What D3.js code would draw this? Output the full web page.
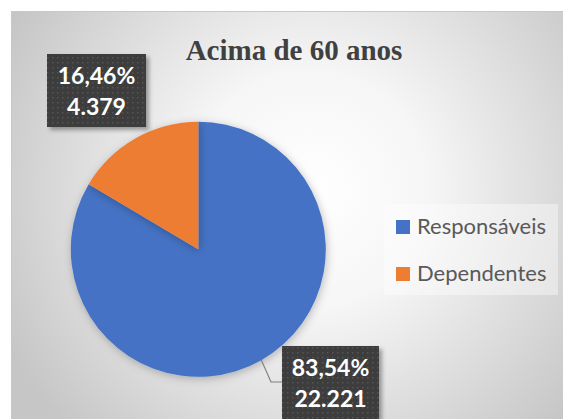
<!DOCTYPE html>
<html>
<head>
<meta charset="utf-8">
<script src="https://cdn.jsdelivr.net/npm/d3@7"></script>
<style>
  html, body { margin: 0; padding: 0; background: #ffffff; }
  svg { display: block; }
</style>
</head>
<body>
<div id="chart"></div>
<script>
// chart data
var categories = ["Responsáveis", "Dependentes"];
var values = [22221, 4379];
var colors = ["#4472c4", "#ed7d31"];
var title = "Acima de 60 anos";

var width = 563, height = 419;

// pt-BR number formats
var locale = d3.formatLocale({decimal: ",", thousands: ".", grouping: [3], currency: ["R$", ""]});
var fmtPct = locale.format(".2%");
var fmtNum = locale.format(",d");

var svg = d3.select("#chart")
    .append("svg")
    .attr("width", width)
    .attr("height", height);

var defs = svg.append("defs");

// radial background
var grad = defs.append("radialGradient")
    .attr("id", "bg")
    .attr("gradientUnits", "userSpaceOnUse")
    .attr("cx", 310).attr("cy", 190).attr("r", 340);
grad.append("stop").attr("offset", "0%").attr("stop-color", "#ffffff");
grad.append("stop").attr("offset", "35%").attr("stop-color", "#f6f6f6");
grad.append("stop").attr("offset", "100%").attr("stop-color", "#c6c6c6");

// dotted texture for data labels
var pat = defs.append("pattern")
    .attr("id", "dots")
    .attr("patternUnits", "userSpaceOnUse")
    .attr("width", 5).attr("height", 5);
pat.append("rect").attr("width", 5).attr("height", 5).attr("fill", "#3c3c3c");
pat.append("rect").attr("x", 2).attr("y", 2).attr("width", 1.5).attr("height", 1.5).attr("fill", "#575757");

// shadows
var sh = defs.append("filter").attr("id", "pieShadow")
    .attr("x", "-20%").attr("y", "-20%").attr("width", "140%").attr("height", "140%");
sh.append("feDropShadow").attr("dx", 1).attr("dy", 2).attr("stdDeviation", 4)
    .attr("flood-color", "#000").attr("flood-opacity", 0.25);

var sh2 = defs.append("filter").attr("id", "boxShadow")
    .attr("x", "-20%").attr("y", "-20%").attr("width", "140%").attr("height", "140%");
sh2.append("feDropShadow").attr("dx", 3).attr("dy", 3).attr("stdDeviation", 2)
    .attr("flood-color", "#000").attr("flood-opacity", 0.35);

// chart area
svg.append("rect")
    .attr("x", 11.5).attr("y", 11.5)
    .attr("width", 620).attr("height", 500)
    .attr("fill", "url(#bg)")
    .attr("stroke", "#c8c8c8")
    .attr("stroke-width", 1);

// title
svg.append("text")
    .attr("x", 294)
    .attr("y", 60)
    .attr("text-anchor", "middle")
    .style("font-family", "'Liberation Serif', 'Times New Roman', serif")
    .style("font-weight", "bold")
    .style("font-size", "29px")
    .style("fill", "#404040")
    .text(title);

// pie
var cx = 198.3, cy = 249.3, radius = 127.5;

var pie = d3.pie().sort(null).value(d => d.value);
var data = categories.map((c, i) => ({name: c, value: values[i], color: colors[i]}));
var arcs = pie(data);
var total = d3.sum(values);

var arc = d3.arc().innerRadius(0).outerRadius(radius);

var g = svg.append("g")
    .attr("transform", "translate(" + cx + "," + cy + ")");

g.selectAll("path")
    .data(arcs)
    .enter()
    .append("path")
    .attr("d", arc)
    .attr("fill", d => d.data.color)
    .attr("filter", "url(#pieShadow)");

// data labels (boxes placed like the original)
var labelBoxes = [
    {x: 282, y: 346, w: 97, h: 73, leader: true},
    {x: 47, y: 54, w: 99, h: 73, leader: false}
];

arcs.forEach(function(d, i) {
    var b = labelBoxes[i];
    if (b.leader) {
        var mid = (d.startAngle + d.endAngle) / 2;
        var px = cx + Math.sin(mid) * radius;
        var py = cy - Math.cos(mid) * radius;
        var ly = b.y + 36;
        svg.append("polyline")
            .attr("points", [[px, py], [b.x - 11, ly], [b.x, ly]].map(p => p.join(",")).join(" "))
            .attr("fill", "none")
            .attr("stroke", "#808080")
            .attr("stroke-width", 1.2);
    }
    var lg = svg.append("g");
    lg.append("rect")
        .attr("x", b.x).attr("y", b.y)
        .attr("width", b.w).attr("height", b.h)
        .attr("fill", "url(#dots)")
        .attr("filter", "url(#boxShadow)");
    var t = lg.append("text")
        .attr("text-anchor", "middle")
        .style("font-family", "Lato, 'Open Sans', sans-serif")
        .style("font-weight", "bold")
        .style("font-size", "23px")
        .style("fill", "#ffffff");
    t.append("tspan")
        .attr("x", b.x + b.w / 2).attr("y", b.y + 30)
        .text(fmtPct(d.data.value / total));
    t.append("tspan")
        .attr("x", b.x + b.w / 2).attr("y", b.y + 61)
        .text(fmtNum(d.data.value));
});

// legend
var legend = svg.append("g");
legend.append("rect")
    .attr("x", 384).attr("y", 204)
    .attr("width", 174).attr("height", 91)
    .attr("fill", "#ffffff")
    .attr("fill-opacity", 0.4);

var items = legend.selectAll("g.item")
    .data(data)
    .enter()
    .append("g")
    .attr("class", "item")
    .attr("transform", (d, i) => "translate(396," + (220 + i * 47) + ")");

items.append("rect")
    .attr("width", 14).attr("height", 14)
    .attr("fill", d => d.color);

items.append("text")
    .attr("x", 21)
    .attr("y", 13.5)
    .style("font-family", "Lato, 'Open Sans', sans-serif")
    .style("font-size", "22px")
    .style("fill", "#595959")
    .text(d => d.name);
</script>
</body>
</html>
